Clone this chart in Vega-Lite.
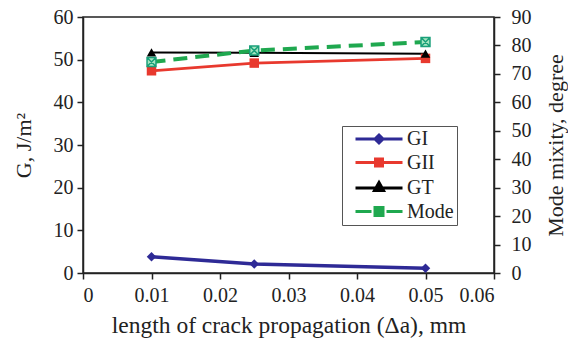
{
  "$schema": "https://vega.github.io/schema/vega-lite/v6.json",
  "width": 411,
  "height": 256,
  "autosize": {"type": "none"},
  "padding": {"left": 83, "top": 17, "right": 74, "bottom": 74},
  "background": "white",
  "config": {
    "font": "Liberation Serif",
    "view": {"stroke": "#222", "strokeWidth": 1.5},
    "axis": {
      "grid": false,
      "domainColor": "#222",
      "domainWidth": 1.5,
      "tickColor": "#222",
      "tickWidth": 1.5,
      "tickSize": 6,
      "labelFont": "Liberation Serif",
      "labelFontSize": 20,
      "labelColor": "#222",
      "titleFont": "Liberation Serif",
      "titleFontSize": 22,
      "titleFontWeight": "normal",
      "titleColor": "#222"
    }
  },
  "datasets": {
    "G": [
      {"x": 0.01, "series": "GI", "G": 3.8},
      {"x": 0.025, "series": "GI", "G": 2.1},
      {"x": 0.05, "series": "GI", "G": 1.1},
      {"x": 0.01, "series": "GII", "G": 47.4},
      {"x": 0.025, "series": "GII", "G": 49.2},
      {"x": 0.05, "series": "GII", "G": 50.3},
      {"x": 0.01, "series": "GT", "G": 51.7},
      {"x": 0.025, "series": "GT", "G": 51.6},
      {"x": 0.05, "series": "GT", "G": 51.4}
    ],
    "M": [
      {"x": 0.01, "mode": 74.2},
      {"x": 0.025, "mode": 78.2},
      {"x": 0.05, "mode": 81.2}
    ]
  },
  "encoding": {
    "x": {
      "field": "x",
      "type": "quantitative",
      "scale": {"domain": [0, 0.06]},
      "axis": {
        "values": [0, 0.01, 0.02, 0.03, 0.04, 0.05, 0.06],
        "format": "~g",
        "title": "length of crack propagation (Δa), mm",
        "titleFontSize": 23.5,
        "labelPadding": 6,
        "titlePadding": 8
      }
    }
  },
  "layer": [
    {
      "data": {"name": "G"},
      "encoding": {
        "y": {
          "field": "G",
          "type": "quantitative",
          "scale": {"domain": [0, 60]},
          "axis": {
            "orient": "left",
            "values": [0, 10, 20, 30, 40, 50, 60],
            "title": "G, J/m²",
            "labelPadding": 4,
            "titlePadding": 18
          }
        }
      },
      "layer": [
        {
          "mark": {"type": "line"},
          "encoding": {
            "color": {
              "field": "series",
              "type": "nominal",
              "scale": {
                "domain": ["GI", "GII", "GT", "Mode"],
                "range": ["#2e2a96", "#e8392e", "#000000", "#1fa84f"]
              },
              "legend": {
                "title": null,
                "orient": "none",
                "legendX": 259,
                "legendY": 109,
                "strokeColor": "#555",
                "fillColor": "white",
                "padding": 3,
                "symbolSize": 100,
                "symbolOffset": 24,
                "labelOffset": 18,
                "labelFont": "Liberation Serif",
                "labelFontSize": 20,
                "labelColor": "#222",
                "rowPadding": 3.5,
                "symbolStrokeWidth": 3,
                "encode": {
                  "symbols": {
                    "update": {
                      "shape": {"signal": "datum.value === 'GI' ? 'M-4.7,0H4.7M0,-0.8L0.8,0L0,0.8L-0.8,0Z' : datum.value === 'GII' ? 'M-4.7,0H4.7M-0.7,-0.7H0.7V0.7H-0.7Z' : datum.value === 'GT' ? 'M-4.7,0H4.7M0,-1.1L0.9,0.5H-0.9Z' : 'M-4.7,0H-1.5M1.5,0H4.7M-0.8,-0.8H0.8V0.8H-0.8ZM-0.8,-0.8L0.8,0.8M-0.8,0.8L0.8,-0.8'"},
                      "fill": {"signal": "datum.value === 'GI' ? '#2e2a96' : datum.value === 'GII' ? '#e8392e' : datum.value === 'GT' ? '#000000' : '#a6e6c0'"},
                      "stroke": {"signal": "datum.value === 'GI' ? '#2e2a96' : datum.value === 'GII' ? '#e8392e' : datum.value === 'GT' ? '#000000' : '#1fa84f'"},
                      "strokeDash": {"value": []},
                      "opacity": {"value": 1}
                    }
                  }
                }
              }
            },
            "strokeWidth": {
              "field": "series",
              "type": "ordinal",
              "scale": {"domain": ["GI", "GII", "GT"], "range": [3.5, 2, 2]},
              "legend": null
            }
          }
        },
        {
          "mark": {"type": "point", "filled": true, "size": 90, "opacity": 1},
          "encoding": {
            "color": {"field": "series", "type": "nominal", "legend": null},
            "shape": {
              "field": "series",
              "type": "nominal",
              "scale": {"domain": ["GI", "GII", "GT"], "range": ["diamond", "square", "triangle-up"]},
              "legend": null
            }
          }
        }
      ]
    },
    {
      "data": {"name": "M"},
      "encoding": {
        "y": {
          "field": "mode",
          "type": "quantitative",
          "scale": {"domain": [0, 90]},
          "axis": {
            "orient": "right",
            "values": [0, 10, 20, 30, 40, 50, 60, 70, 80, 90],
            "title": "Mode mixity, degree",
            "titleAngle": 270,
            "titleX": 61,
            "titleY": 128,
            "titleAlign": "center",
            "titleBaseline": "middle",
            "labelPadding": 11
          }
        }
      },
      "layer": [
        {
          "mark": {"type": "line", "stroke": "#1fa84f", "strokeWidth": 4, "strokeDash": [14, 8]},
          "encoding": {}
        },
        {
          "mark": {
            "type": "point",
            "shape": "M-1,-1H1V1H-1ZM-1,-1L1,1M-1,1L1,-1",
            "size": 80,
            "fill": "#a6e6c0",
            "stroke": "#1aa07a",
            "strokeWidth": 1.5,
            "opacity": 1
          },
          "encoding": {}
        }
      ]
    }
  ],
  "resolve": {"scale": {"y": "independent"}}
}
